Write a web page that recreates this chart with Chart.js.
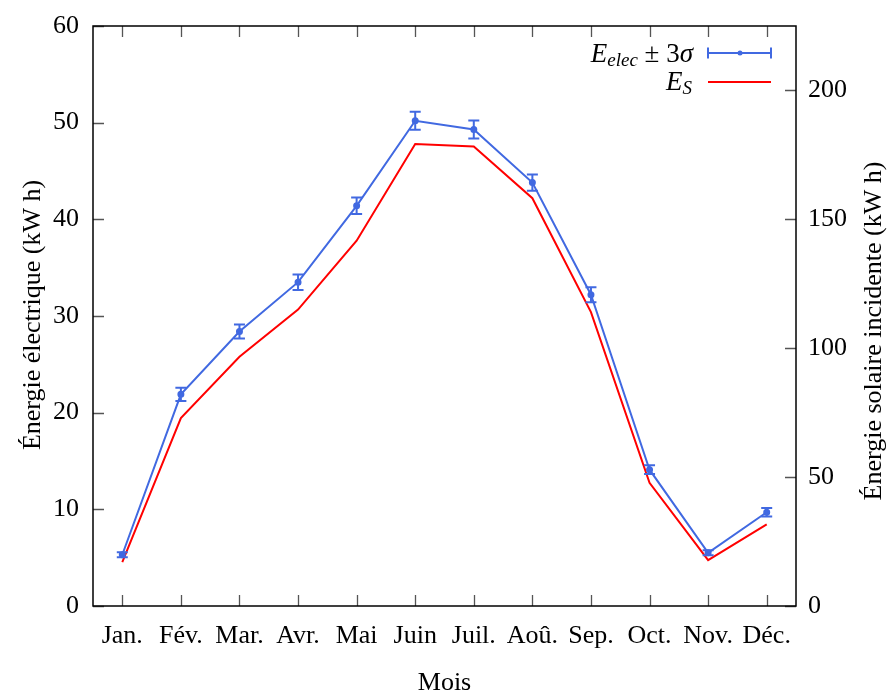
<!DOCTYPE html>
<html>
<head>
<meta charset="utf-8">
<script src="https://cdn.jsdelivr.net/npm/chart.js@4"></script>
<style>
  html, body { margin: 0; padding: 0; background: #fff; }
</style>
</head>
<body>
<canvas id="chart" width="888" height="695"></canvas>
<script>
// Data
const months = ['Jan.', 'Fév.', 'Mar.', 'Avr.', 'Mai', 'Juin', 'Juil.', 'Aoû.', 'Sep.', 'Oct.', 'Nov.', 'Déc.'];
const elecValues = [5.3, 21.9, 28.4, 33.5, 41.4, 50.2, 49.3, 43.8, 32.2, 14.1, 5.5, 9.7];
const elecErr3Sigma = [0.26, 0.69, 0.72, 0.8, 0.86, 0.94, 0.93, 0.85, 0.78, 0.45, 0.26, 0.43];
const solarValues = [17.0, 72.9, 96.7, 115.0, 141.7, 179.2, 178.3, 158.2, 114.0, 47.8, 17.8, 31.7];
const leftTicks = [0, 10, 20, 30, 40, 50, 60];
const rightTicks = [0, 50, 100, 150, 200];

const FONT = '"Liberation Serif", "DejaVu Serif", serif';
const BLUE = '#4169E1';
const RED = '#FF0000';
const TICK_LEN = 11;

// Frame, inward ticks, error bars, legend and axis titles
const decorPlugin = {
  id: 'decor',
  afterDatasetsDraw(chart) {
    const ctx = chart.ctx;
    const x = chart.scales.x;
    const y = chart.scales.y;
    ctx.save();
    ctx.strokeStyle = BLUE;
    ctx.lineWidth = 2;
    elecValues.forEach((v, i) => {
      const px = x.getPixelForValue(i);
      const top = y.getPixelForValue(v + elecErr3Sigma[i]);
      const bot = y.getPixelForValue(v - elecErr3Sigma[i]);
      ctx.beginPath();
      ctx.moveTo(px, top); ctx.lineTo(px, bot);
      ctx.moveTo(px - 5.5, top); ctx.lineTo(px + 5.5, top);
      ctx.moveTo(px - 5.5, bot); ctx.lineTo(px + 5.5, bot);
      ctx.stroke();
    });
    ctx.restore();
  },
  afterDraw(chart) {
    const ctx = chart.ctx;
    const area = chart.chartArea;
    const x = chart.scales.x;
    const y = chart.scales.y;
    const y1 = chart.scales.y1;
    ctx.save();

    // inward ticks
    ctx.strokeStyle = '#555';
    ctx.lineWidth = 1.3;
    ctx.beginPath();
    months.forEach((m, i) => {
      const px = Math.round(x.getPixelForValue(i)) + 0.5;
      ctx.moveTo(px, area.bottom); ctx.lineTo(px, area.bottom - TICK_LEN);
      ctx.moveTo(px, area.top); ctx.lineTo(px, area.top + TICK_LEN);
    });
    leftTicks.forEach(t => {
      const py = Math.round(y.getPixelForValue(t)) + 0.5;
      ctx.moveTo(area.left, py); ctx.lineTo(area.left + TICK_LEN, py);
    });
    rightTicks.forEach(t => {
      const py = Math.round(y1.getPixelForValue(t)) + 0.5;
      ctx.moveTo(area.right, py); ctx.lineTo(area.right - TICK_LEN, py);
    });
    ctx.stroke();

    // frame
    ctx.strokeStyle = '#000';
    ctx.lineWidth = 1.5;
    ctx.strokeRect(area.left, area.top, area.right - area.left, area.bottom - area.top);

    // axis titles
    ctx.fillStyle = '#000';
    ctx.font = '26px ' + FONT;
    ctx.textAlign = 'center';
    ctx.textBaseline = 'alphabetic';
    ctx.fillText('Mois', (area.left + area.right) / 2, 690);

    ctx.save();
    ctx.translate(40, 315);
    ctx.rotate(-Math.PI / 2);
    ctx.fillText('Énergie électrique (kW h)', 0, 0);
    ctx.restore();

    ctx.save();
    ctx.translate(881, 331);
    ctx.rotate(-Math.PI / 2);
    ctx.fillText('Énergie solaire incidente (kW h)', 0, 0);
    ctx.restore();

    // legend
    drawLegend(ctx);
    ctx.restore();
  }
};

function drawRuns(ctx, runs, rightX, baseY) {
  let total = 0;
  runs.forEach(r => { ctx.font = r.font; total += ctx.measureText(r.text).width; });
  let cx = rightX - total;
  ctx.textAlign = 'left';
  ctx.textBaseline = 'alphabetic';
  runs.forEach(r => {
    ctx.font = r.font;
    ctx.fillText(r.text, cx, baseY + (r.dy || 0));
    cx += ctx.measureText(r.text).width;
  });
}

function drawLegend(ctx) {
  const it = 'italic 27px ' + FONT;
  const sub = 'italic 19px ' + FONT;
  const up = '27px ' + FONT;
  ctx.fillStyle = '#000';
  drawRuns(ctx, [
    { text: 'E', font: it },
    { text: 'elec', font: sub, dy: 4 },
    { text: ' ± 3', font: up },
    { text: 'σ', font: it }
  ], 693, 62);
  drawRuns(ctx, [
    { text: 'E', font: it },
    { text: 'S', font: sub, dy: 4 }
  ], 692, 90);

  // blue sample with error-bar style ends
  ctx.strokeStyle = BLUE;
  ctx.lineWidth = 2;
  ctx.beginPath();
  ctx.moveTo(708, 53); ctx.lineTo(771, 53);
  ctx.moveTo(708, 47.5); ctx.lineTo(708, 58.5);
  ctx.moveTo(771, 47.5); ctx.lineTo(771, 58.5);
  ctx.stroke();
  ctx.fillStyle = BLUE;
  ctx.beginPath();
  ctx.arc(740, 53, 2.5, 0, Math.PI * 2);
  ctx.fill();

  ctx.strokeStyle = RED;
  ctx.beginPath();
  ctx.moveTo(708, 82); ctx.lineTo(771, 82);
  ctx.stroke();
}

// drop the label overflow padding so the plot box sits where the reference has it
function noOverflow(s) {
  s.paddingTop = 0;
  s.paddingBottom = 0;
  s.paddingLeft = 0;
  s.paddingRight = 0;
}

new Chart(document.getElementById('chart'), {
  type: 'line',
  data: {
    labels: months,
    datasets: [{
      label: 'E_elec ± 3σ',
      data: elecValues,
      yAxisID: 'y',
      borderColor: BLUE,
      backgroundColor: BLUE,
      borderWidth: 2,
      pointRadius: 2.5,
      pointHoverRadius: 2.5,
      tension: 0
    }, {
      label: 'E_S',
      data: solarValues,
      yAxisID: 'y1',
      borderColor: RED,
      backgroundColor: RED,
      borderWidth: 2,
      pointRadius: 0,
      tension: 0
    }]
  },
  options: {
    responsive: false,
    animation: false,
    layout: { padding: { top: 26, left: 0, right: 0, bottom: 0 } },
    plugins: {
      legend: { display: false },
      tooltip: { enabled: false }
    },
    scales: {
      x: {
        type: 'category',
        offset: true,
        grid: { display: false, drawTicks: false },
        border: { display: false },
        ticks: {
          autoSkip: false,
          maxRotation: 0,
          minRotation: 0,
          padding: 15,
          color: '#000',
          font: { family: FONT, size: 26 }
        },
        afterFit(s) { s.height = 89; noOverflow(s); }
      },
      y: {
        position: 'left',
        min: 0,
        max: 60,
        grid: { display: false, drawTicks: false },
        border: { display: false },
        ticks: {
          stepSize: 10,
          padding: 14,
          color: '#000',
          font: { family: FONT, size: 26 }
        },
        afterFit(s) { s.width = 93; noOverflow(s); }
      },
      y1: {
        position: 'right',
        min: 0,
        max: 225,
        grid: { display: false, drawTicks: false },
        border: { display: false },
        ticks: {
          stepSize: 50,
          includeBounds: false,
          padding: 12,
          color: '#000',
          font: { family: FONT, size: 26 }
        },
        afterFit(s) { s.width = 92; noOverflow(s); }
      }
    }
  },
  plugins: [decorPlugin]
});
</script>
</body>
</html>
